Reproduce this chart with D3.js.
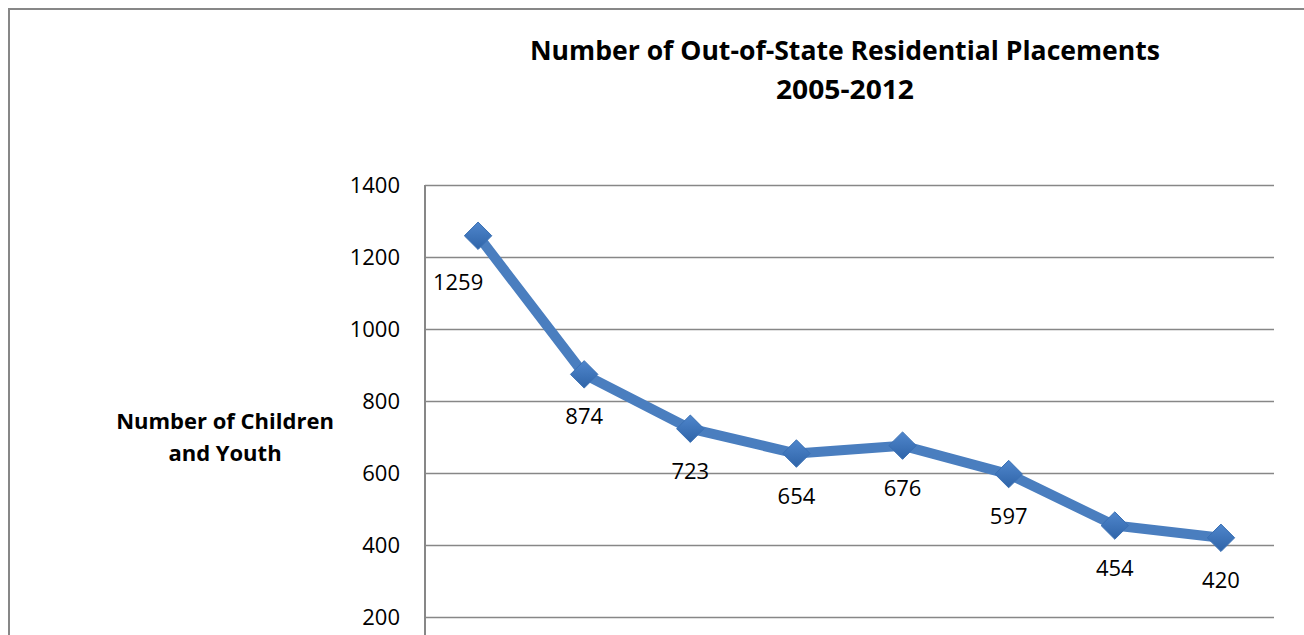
<!DOCTYPE html>
<html>
<head>
<meta charset="utf-8">
<script src="https://cdn.jsdelivr.net/npm/d3@7"></script>
<style>
	body { margin:0; background:#fff; }
	svg text { font-family:'Open Sans', 'Liberation Sans', sans-serif; fill:#000; }
</style>
</head>
<body>
<div id="container"></div>
<script>
// Chart data
var years = ['2005','2006','2007','2008','2009','2010','2011','2012']
var placements = [1259, 874, 723, 654, 676, 597, 454, 420]
var yTicks = [200, 400, 600, 800, 1000, 1200, 1400]
var titleLines = ['Number of Out-of-State Residential Placements', '2005-2012']
var yTitleLines = ['Number of Children', 'and Youth']

var width = 1304, height = 635
var plot = {left:425, right:1274, top:185, zero:689}
var lineColor = '#4a7ebf'

var svg = d3.select('#container').append('svg')
	.attr('width', width)
	.attr('height', height)

// outer chart border (runs off the page at right and bottom)
svg.append('rect')
	.attr('x', 9).attr('y', 9)
	.attr('width', 1400).attr('height', 800)
	.attr('fill', '#fff')
	.attr('stroke', '#878787')
	.attr('stroke-width', 2)

var x = d3.scaleBand().domain(years).range([plot.left, plot.right])
var y = d3.scaleLinear().domain([0, 1400]).range([plot.zero, plot.top])
var cx = function(d) { return x(d) + x.bandwidth() / 2 }

// gridlines + y axis labels
var yAxis = svg.append('g')
	.attr('transform', 'translate(' + plot.left + ',0)')
	.call(d3.axisLeft(y).tickValues(yTicks).tickSize(-(plot.right - plot.left)).tickPadding(25).tickFormat(d3.format('d')))
yAxis.select('.domain').remove()
yAxis.selectAll('.tick line').attr('stroke', '#878787').attr('stroke-width', 1.6)
yAxis.selectAll('.tick text').style('font-size', '22px').attr('fill', '#000')

// vertical axis line
svg.append('line')
	.attr('x1', plot.left).attr('x2', plot.left)
	.attr('y1', plot.top).attr('y2', height + 10)
	.attr('stroke', '#878787').attr('stroke-width', 2)

// gradient for markers
var defs = svg.append('defs')
var grad = defs.append('linearGradient').attr('id', 'mk').attr('x1', 0).attr('y1', 0).attr('x2', 0).attr('y2', 1)
grad.append('stop').attr('offset', '0%').attr('stop-color', '#4f86cc')
grad.append('stop').attr('offset', '100%').attr('stop-color', '#2f64a8')

var pts = years.map(function(yr, i) { return {year:yr, value:placements[i]} })

// series line
var line = d3.line().x(function(d) { return cx(d.year) }).y(function(d) { return y(d.value) })
svg.append('path')
	.datum(pts)
	.attr('d', line)
	.attr('fill', 'none')
	.attr('stroke', lineColor)
	.attr('stroke-width', 10)
	.attr('stroke-linejoin', 'round')

// diamond markers
svg.selectAll('.marker').data(pts).enter().append('path')
	.attr('class', 'marker')
	.attr('d', d3.symbol().type(d3.symbolDiamond2).size(480))
	.attr('transform', function(d) { return 'translate(' + cx(d.year) + ',' + y(d.value) + ')' })
	.attr('fill', 'url(#mk)')
	.attr('stroke', '#3a70b4')
	.attr('stroke-width', 1)

// data labels below each point
svg.selectAll('.dlabel').data(pts).enter().append('text')
	.attr('class', 'dlabel')
	.attr('x', function(d, i) { return cx(d.year) - (i == 0 ? 20 : 0) })
	.attr('y', function(d, i) { return y(d.value) + (i == 0 ? 54 : 50) })
	.attr('text-anchor', 'middle')
	.style('font-size', '22px')
	.text(function(d) { return d.value })

// chart title
var titleWidths = [630, 138]
svg.selectAll('.title').data(titleLines).enter().append('text')
	.attr('class', 'title')
	.attr('x', 845)
	.attr('y', function(d, i) { return 60 + i * 39 })
	.attr('text-anchor', 'middle')
	.attr('textLength', function(d, i) { return titleWidths[i] })
	.attr('lengthAdjust', 'spacingAndGlyphs')
	.style('font-size', '27px')
	.style('font-weight', 'bold')
	.text(function(d) { return d })

// y axis title
svg.selectAll('.ytitle').data(yTitleLines).enter().append('text')
	.attr('class', 'ytitle')
	.attr('x', 225)
	.attr('y', function(d, i) { return 429 + i * 32 })
	.attr('text-anchor', 'middle')
	.style('font-size', '22px')
	.style('font-weight', 'bold')
	.text(function(d) { return d })
</script>
</body>
</html>
